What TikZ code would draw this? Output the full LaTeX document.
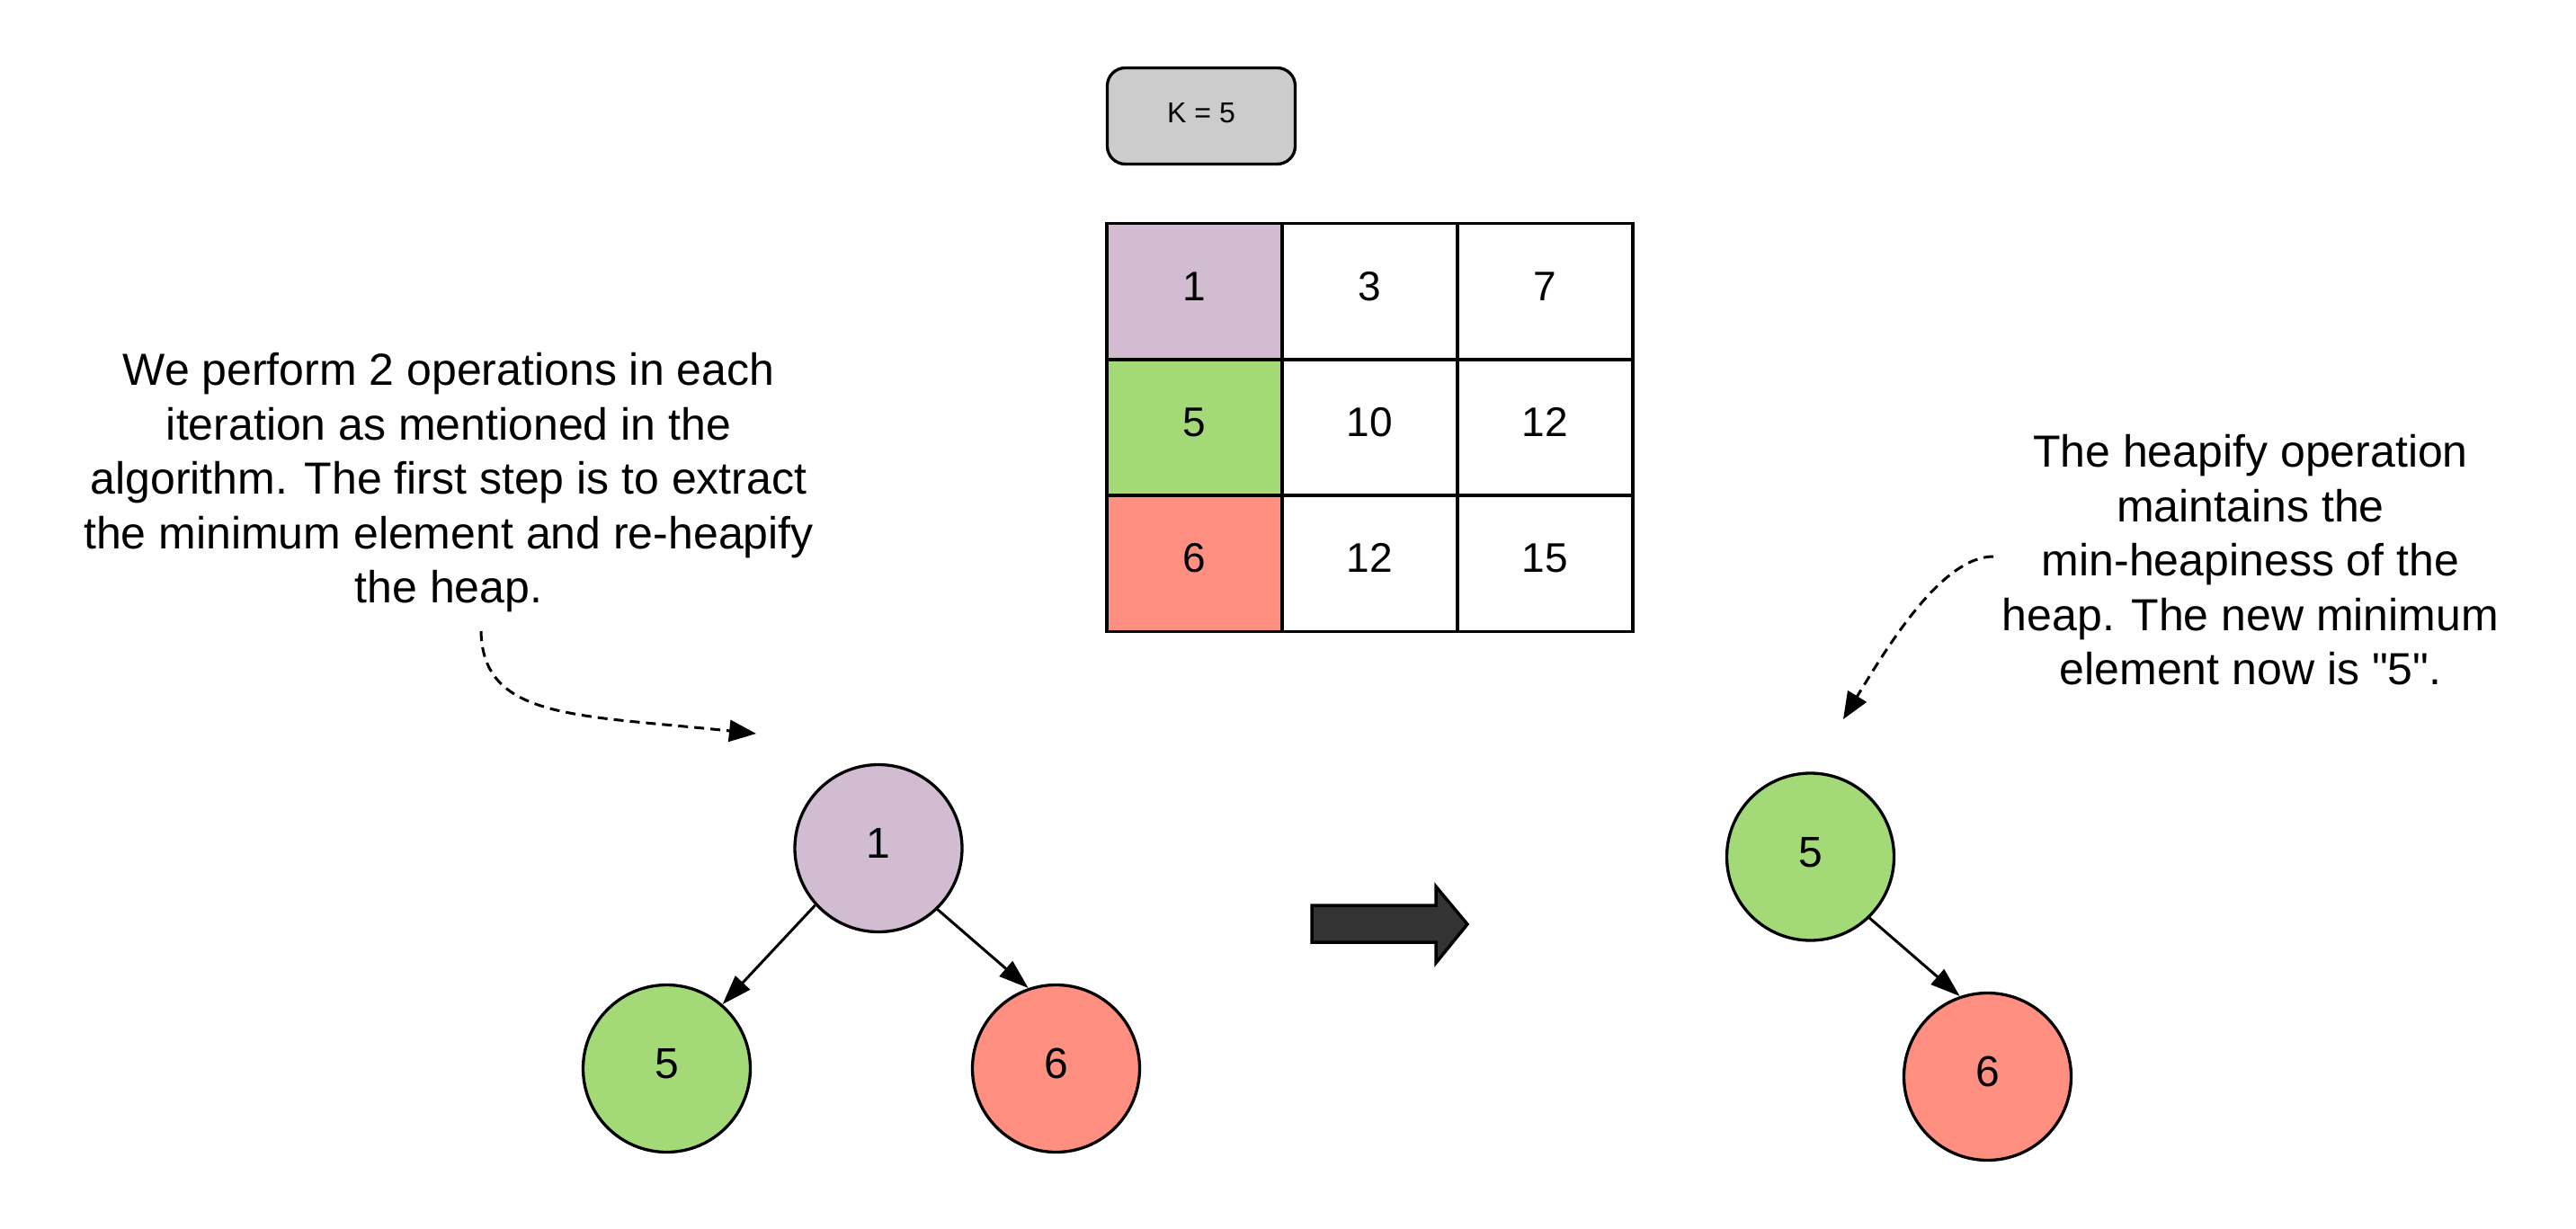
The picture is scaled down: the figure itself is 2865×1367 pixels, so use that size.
\documentclass[tikz,border=0pt]{standalone}
\usepackage{fontspec}
\setmainfont{Liberation Sans}
\usetikzlibrary{arrows.meta}

\definecolor{heapPurple}{HTML}{D1BCD2}
\definecolor{heapGreen}{HTML}{A3D977}
\definecolor{heapRed}{HTML}{FF8F80}
\definecolor{keyGray}{HTML}{CCCCCC}
\definecolor{blockGray}{HTML}{333333}

% straight double quote, set as a glyph so the TeX quote mapping leaves it alone
\newcommand\dquote{\XeTeXglyph\XeTeXcharglyph"22\relax}

\begin{document}
\begin{tikzpicture}[x=1pt,y=-1pt,
  heapnode/.style={circle, draw, line width=3.3pt, minimum size=186pt, inner sep=0pt,
    font=\fontsize{48}{58}\selectfont, text height=34.5pt, text depth=12pt},
  cell/.style={rectangle, draw, line width=3.3pt, minimum width=195pt, minimum height=151.3pt,
    inner sep=0pt, fill=white, font=\fontsize{46}{55}\selectfont, text height=33pt, text depth=12.5pt},
  keybox/.style={rectangle, rounded corners=20pt, draw, line width=3.3pt, fill=keyGray,
    minimum width=209pt, minimum height=107pt, inner sep=0pt,
    font=\fontsize{32}{38}\selectfont, text height=23pt, text depth=8pt},
  note/.style={align=center, inner sep=0pt, font=\fontsize{50}{60.5}\selectfont},
  treeedge/.style={line width=3pt, -{Triangle[length=33pt,width=22pt]}},
  hint/.style={line width=3pt, dash pattern=on 11pt off 7pt, -{Triangle[length=30pt,width=24pt]}},
]
\useasboundingbox (0,0) rectangle (2865,1367);

% the value of K
\node[keybox] (k) at (1336,129) {K = 5};

% the 3x3 matrix, first column highlighted
\node[cell, fill=heapPurple] (c11) at (1328.5,324) {1};
\node[cell] (c12) at (1523.5,324) {3};
\node[cell] (c13) at (1718.5,324) {7};
\node[cell, fill=heapGreen] (c21) at (1328.5,475.5) {5};
\node[cell] (c22) at (1523.5,475.5) {10};
\node[cell] (c23) at (1718.5,475.5) {12};
\node[cell, fill=heapRed] (c31) at (1328.5,626.5) {6};
\node[cell] (c32) at (1523.5,626.5) {12};
\node[cell] (c33) at (1718.5,626.5) {15};

% heap before extraction
\node[heapnode, fill=heapPurple] (l1) at (977,943.5) {1};
\node[heapnode, fill=heapGreen] (l5) at (741.5,1188.5) {5};
\node[heapnode, fill=heapRed] (l6) at (1174.5,1188.5) {6};
\draw[treeedge] (l1.222) -- (l5.49);
\draw[treeedge] (l1.-46) -- (l6.109);

% heap after extraction
\node[heapnode, fill=heapGreen] (r5) at (2013.5,953) {5};
\node[heapnode, fill=heapRed] (r6) at (2210.5,1197.5) {6};
\draw[treeedge] (r5.-46) -- (r6.109);

% transition arrow
\filldraw[fill=blockGray, line width=3.5pt, line join=miter]
  (1459,1007) -- (1597,1007) -- (1597,986) -- (1632,1028) -- (1597,1071)
  -- (1597,1048) -- (1459,1048) -- cycle;

% explanations
\node[note] (leftnote) at (499,537) {We perform 2 operations in each\\iteration as mentioned in the\\algorithm. The first step is to extract\\the minimum element and re-heapify\\the heap.};
\node[note] (rightnote) at (2503,623) {The heapify operation\\maintains the\\min-heapiness of the\\heap. The new minimum\\element now is \dquote 5\dquote.};

\coordinate (lstart) at (535,702);
\coordinate (lend) at (841,816);
\draw[hint] (lstart) .. controls (537,800) and (640,795) .. (lend);

\coordinate (rstart) at (2217,619);
\coordinate (rend) at (2050,800);
\draw[hint] (rstart) .. controls (2160,619) and (2100,718) .. (rend);
\end{tikzpicture}
\end{document}
